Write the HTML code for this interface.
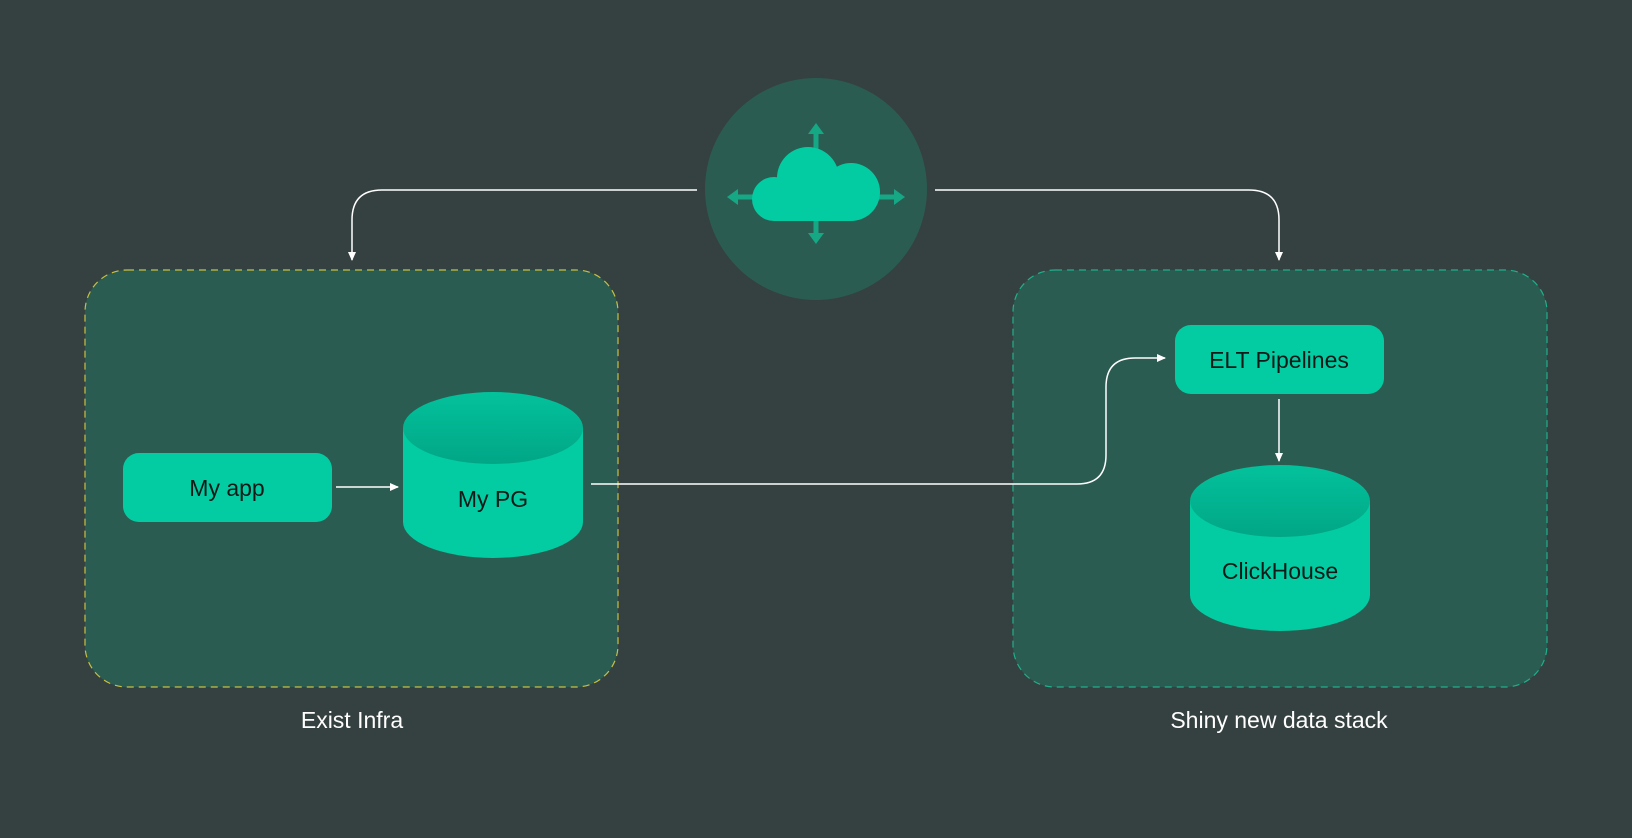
<!DOCTYPE html>
<html><head><meta charset="utf-8"><style>
html,body{margin:0;padding:0;background:#354040;}
svg{display:block}
text{font-family:"Liberation Sans",sans-serif;}
</style></head><body>
<svg width="1632" height="838" viewBox="0 0 1632 838" xmlns="http://www.w3.org/2000/svg">
<defs>
<linearGradient id="tg" x1="0" y1="0" x2="0" y2="1">
<stop offset="0" stop-color="#03c29c"/><stop offset="1" stop-color="#01a686"/>
</linearGradient>
<marker id="ah" markerWidth="10" markerHeight="10" refX="8" refY="5" orient="auto" markerUnits="userSpaceOnUse">
<path d="M0,1 L9,5 L0,9 Z" fill="#fff"/>
</marker>
</defs>
<rect width="1632" height="838" fill="#354040"/>
<rect x="85" y="270" width="533" height="417" rx="42" fill="#2b5c51" stroke="#c8c040" stroke-width="1.2" stroke-dasharray="7,5"/>
<rect x="1013" y="270" width="534" height="417" rx="42" fill="#2b5c51" stroke="#1fb08c" stroke-width="1.2" stroke-dasharray="7,5"/>
<circle cx="816" cy="189" r="111" fill="#2b5c51"/>
<g stroke="#16a784" stroke-width="5" fill="#16a784">
<line x1="816" y1="150" x2="816" y2="132"/><path d="M808,134 L816,123 L824,134 Z" stroke="none"/>
<line x1="816" y1="215" x2="816" y2="235"/><path d="M808,233 L816,244 L824,233 Z" stroke="none"/>
<line x1="760" y1="197" x2="736" y2="197"/><path d="M738,189 L727,197 L738,205 Z" stroke="none"/>
<line x1="872" y1="197" x2="896" y2="197"/><path d="M894,189 L905,197 L894,205 Z" stroke="none"/>
</g>
<g fill="#03cca3">
<circle cx="774" cy="199" r="22"/>
<circle cx="808" cy="178" r="31"/>
<circle cx="851" cy="192" r="29"/>
<rect x="774" y="185" width="77" height="36"/>
</g>
<g fill="none" stroke="#fff" stroke-width="1.5">
<path d="M697,190 L382,190 Q352,190 352,220 L352,260" marker-end="url(#ah)"/>
<path d="M935,190 L1249,190 Q1279,190 1279,220 L1279,260" marker-end="url(#ah)"/>
<line x1="336" y1="487" x2="398" y2="487" marker-end="url(#ah)"/>
<path d="M591,484 L1077,484 Q1106,484 1106,455 L1106,387 Q1106,358 1135,358 L1165,358" marker-end="url(#ah)"/>
<line x1="1279" y1="399" x2="1279" y2="461" marker-end="url(#ah)"/>
</g>
<rect x="123" y="453" width="209" height="69" rx="16" fill="#03cca3"/>
<text x="227" y="496" font-size="23" text-anchor="middle" fill="#0d1a17">My app</text>
<path d="M403,428 L403,522 A90,36 0 0 0 583,522 L583,428 Z" fill="#03cca3"/>
<ellipse cx="493" cy="428" rx="90" ry="36" fill="url(#tg)"/>
<text x="493" y="507" font-size="23" text-anchor="middle" fill="#0d1a17">My PG</text>
<rect x="1175" y="325" width="209" height="69" rx="16" fill="#03cca3"/>
<text x="1279" y="368" font-size="23" text-anchor="middle" fill="#0d1a17">ELT Pipelines</text>
<path d="M1190,501 L1190,595 A90,36 0 0 0 1370,595 L1370,501 Z" fill="#03cca3"/>
<ellipse cx="1280" cy="501" rx="90" ry="36" fill="url(#tg)"/>
<text x="1280" y="579" font-size="23" text-anchor="middle" fill="#0d1a17">ClickHouse</text>
<text x="352" y="728" font-size="23" text-anchor="middle" fill="#fff">Exist Infra</text>
<text x="1279" y="728" font-size="23" text-anchor="middle" fill="#fff">Shiny new data stack</text>
</svg>
</body></html>
